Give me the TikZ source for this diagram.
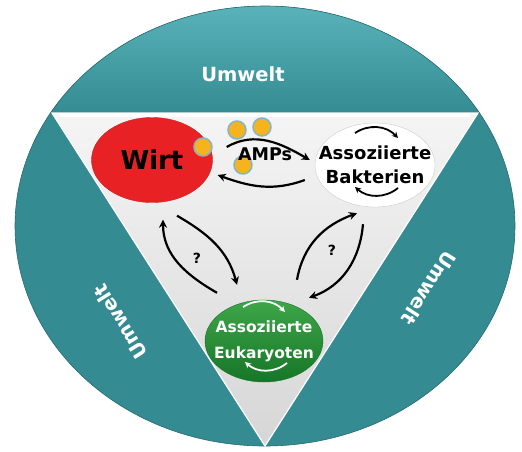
\documentclass[tikz,border=0pt]{standalone}
\usepackage{fontspec}
\setmainfont{DejaVu Sans}
\usepackage{xcolor}
\usepackage{tikz}
\usetikzlibrary{shapes.geometric,arrows.meta,positioning,calc}

\definecolor{umweltteal}{RGB}{52,140,146}
\definecolor{umweltlight}{RGB}{92,180,188}
\definecolor{wirtred}{RGB}{232,34,36}
\definecolor{eukgreen}{RGB}{62,166,72}
\definecolor{eukdark}{RGB}{22,118,40}
\definecolor{ampyellow}{RGB}{245,180,30}
\definecolor{ampblue}{RGB}{130,180,210}

\begin{document}
\begin{tikzpicture}[x=1pt, y=1pt, every node/.style={font=\bfseries},
    partner/.style={ellipse, inner sep=0pt},
    umwelt/.style={text=white, font=\bfseries\fontsize{19.5}{24}\selectfont},
    amp/.style={circle, draw=ampblue, line width=1.5pt, fill=ampyellow, minimum size=18pt, inner sep=0pt},
    link/.style={line width=2.2pt, -{Stealth[length=8pt,width=8pt]}},
    spin/.style={line width=1.8pt, -{Stealth[length=6pt,width=6pt]}, bend left=40}]
    \useasboundingbox (0,0) rectangle (522,-451);

    % Draw disc and triangle
    \fill[umweltteal] (265,-226) ellipse [x radius=250, y radius=220];
    \begin{scope}
        \clip (265,-226) ellipse [x radius=250, y radius=220];
        \shade[top color=umweltlight, middle color=umweltteal, bottom color=umweltteal] (0,0) rectangle (522,-113);
        \draw[umweltteal!80!black, line width=0.8pt] (0,-112) -- (522,-112);
    \end{scope}
    \draw[umweltteal!75!black, line width=0.6pt] (265,-226) ellipse [x radius=250, y radius=220];
    \shade[top color=gray!8, bottom color=gray!32] (52,-113) -- (478,-113) -- (265,-446) -- cycle;
    \draw[white, line width=1.2pt] (52,-113) -- (478,-113) -- (265,-446) -- cycle;
    \draw[white, line width=4pt] (60,-115) -- (470,-115);

    % Umwelt labels
    \node[umwelt] (umtop) at (243,-74) {Umwelt};
    \node[umwelt, rotate=122] (umleft) at (120,-322) {Umwelt};
    \node[umwelt, rotate=-123] (umright) at (429,-288) {Umwelt};

    % Partners
    \node[partner, fill=wirtred, draw=wirtred!85!black, minimum width=121pt, minimum height=85pt] (wirt) at (152,-160) {};
    \node[font=\bfseries\fontsize{26}{30}\selectfont] (wirttext) at (wirt) {Wirt};
    \node[partner, fill=white, draw=gray!40, minimum width=120pt, minimum height=84pt] (bak) at (375,-165) {};
    \node[align=center, font=\bfseries\fontsize{18}{23.5}\selectfont] (baktext) at (bak) {Assoziierte\\Bakterien};
    \node[partner, top color=eukgreen, bottom color=eukdark, draw=eukdark, minimum width=118pt,
        minimum height=82pt] (euk) at (264,-341) {};
    \node[align=center, text=white, font=\bfseries\fontsize{15.5}{26}\selectfont] (euktext) at (euk) {Assoziierte\\Eukaryoten};

    % Arrows between partners
    \draw[link] ([xshift=14pt,yshift=13pt]wirt.east) to[out=30,in=150] ([xshift=-5pt,yshift=5pt]bak.west);
    \draw[link] ([xshift=-10pt,yshift=-15pt]bak.west) to[out=200,in=-20] ([xshift=5pt,yshift=-15pt]wirt.east);
    \draw[link] ([xshift=-47pt,yshift=7pt]euk.north) to[out=150,in=-90] ([xshift=11pt,yshift=-17pt]wirt.south);
    \draw[link] ([xshift=25pt,yshift=-13pt]wirt.south) to[out=-30,in=105] ([xshift=-27pt,yshift=15pt]euk.north);
    \draw[link] ([xshift=33pt,yshift=20pt]euk.north) to[out=80,in=200] ([xshift=-18pt,yshift=-6pt]bak.south);
    \draw[link] ([xshift=-12pt,yshift=-17pt]bak.south) to[out=-95,in=20] ([xshift=45pt,yshift=2pt]euk.north);
    \node[font=\bfseries\fontsize{14}{16}\selectfont] (qleft) at (197,-258) {?};
    \node[font=\bfseries\fontsize{14}{16}\selectfont] (qright) at (332,-250) {?};

    % Cycles inside partners
    \draw[spin] ([shift={(-20,32)}]bak.center) to ([shift={(23,27)}]bak.center);
    \draw[spin] ([shift={(23,-23)}]bak.center) to ([shift={(-20,-22)}]bak.center);
    \draw[spin, white] ([shift={(-21,34)}]euk.center) to ([shift={(21,29)}]euk.center);
    \draw[spin, white] ([shift={(23,-22)}]euk.center) to ([shift={(-19,-21)}]euk.center);

    % AMPs
    \node[amp] (amp1) at (203,-147) {};
    \node[amp] (amp2) at (237,-130) {};
    \node[amp] (amp3) at (262,-127) {};
    \node[amp] (amp4) at (243,-165) {};
    \node[font=\bfseries\fontsize{17.5}{20}\selectfont] (amps) at (265,-154) {AMPs};
\end{tikzpicture}
\end{document}
